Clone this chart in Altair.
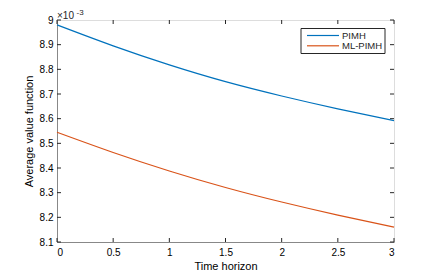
import altair as alt
import pandas as pd

time = [0, 0.5, 1, 1.5, 2, 2.5, 3]
pimh = [8.980, 8.895, 8.818, 8.750, 8.692, 8.640, 8.592]
mlpimh = [8.545, 8.463, 8.388, 8.321, 8.262, 8.209, 8.160]
series = ["PIMH", "ML-PIMH"]
colors = ["#0072BD", "#D95319"]
x_ticks = [0, 0.5, 1, 1.5, 2, 2.5, 3]
y_ticks = [8.1, 8.2, 8.3, 8.4, 8.5, 8.6, 8.7, 8.8, 8.9, 9.0]

W, H = 337, 222
FONT = "Liberation Sans"
AX = "#262626"

df = pd.DataFrame({
    "t": time * 2,
    "v": pimh + mlpimh,
    "s": [series[0]] * len(time) + [series[1]] * len(time),
})
xt = pd.DataFrame({"t": x_ticks})
yt = pd.DataFrame({"v": y_ticks})
one = pd.DataFrame({"a": [1]})

xscale = alt.Scale(domain=[0, 3], nice=False, zero=False)
yscale = alt.Scale(domain=[8.1, 9.0], nice=False, zero=False)

xaxis = alt.Axis(values=x_ticks, ticks=False, tickSize=0, grid=False,
                 labelExpr="format(datum.value, '~g')", labelOverlap=False,
                 labelPadding=5, title="Time horizon",
                 titleY=27, titleBaseline="alphabetic",
                 titleFontSize=11, titleFontWeight="normal")
yaxis = alt.Axis(values=y_ticks, ticks=False, tickSize=0, grid=False,
                 labelExpr="datum.value == 9 ? '9' : format(datum.value, '.1f')",
                 labelOverlap=False,
                 labelPadding=4, title="Average value function", titlePadding=5,
                 titleFontSize=11, titleFontWeight="normal")

lines = alt.Chart(df).mark_line(strokeWidth=1.2, interpolate="natural").encode(
    x=alt.X("t:Q", scale=xscale, axis=xaxis),
    y=alt.Y("v:Q", scale=yscale, axis=yaxis),
    color=alt.Color("s:N", scale=alt.Scale(domain=series, range=colors), legend=None),
)

tb = alt.Chart(xt).mark_rule(color=AX, strokeWidth=1).encode(
    x=alt.X("t:Q", scale=xscale, axis=xaxis), y=alt.value(H), y2=alt.value(H - 4))
tt = alt.Chart(xt).mark_rule(color=AX, strokeWidth=1).encode(
    x=alt.X("t:Q", scale=xscale, axis=xaxis), y=alt.value(0), y2=alt.value(4))
tl = alt.Chart(yt).mark_rule(color=AX, strokeWidth=1).encode(
    y=alt.Y("v:Q", scale=yscale, axis=yaxis), x=alt.value(0), x2=alt.value(4))
tr = alt.Chart(yt).mark_rule(color=AX, strokeWidth=1).encode(
    y=alt.Y("v:Q", scale=yscale, axis=yaxis), x=alt.value(W), x2=alt.value(W - 4))

exp_base = alt.Chart(one).mark_text(
    text="×10", font=FONT, fontSize=10, color=AX, align="left", baseline="alphabetic"
).encode(x=alt.value(0), y=alt.value(-1.5))
exp_sup = alt.Chart(one).mark_text(
    text="-3", font=FONT, fontSize=8, color=AX, align="left", baseline="alphabetic"
).encode(x=alt.value(19.5), y=alt.value(-5.5))

# legend box drawn manually (MATLAB style)
leg_box = alt.Chart(one).mark_rect(fill="white", stroke=AX, strokeWidth=1).encode(
    x=alt.value(244), x2=alt.value(328), y=alt.value(8.5), y2=alt.value(33.5))
leg_layers = []
for i, (name, col) in enumerate(zip(series, colors)):
    yy = 15.5 + 10.3 * i
    leg_layers.append(
        alt.Chart(one).mark_rule(color=col, strokeWidth=1.2).encode(
            x=alt.value(250), x2=alt.value(282), y=alt.value(yy))
    )
    leg_layers.append(
        alt.Chart(one).mark_text(text=name, font=FONT, fontSize=9.5, color=AX,
                                 align="left", baseline="middle").encode(
            x=alt.value(285), y=alt.value(yy + 0.5))
    )

chart = alt.layer(lines, tb, tt, tl, tr, exp_base, exp_sup, leg_box, *leg_layers).properties(
    width=W, height=H,
    autosize=alt.AutoSizeParams(type="none"),
    padding={"left": 49, "top": 12, "right": 34, "bottom": 29},
).configure_view(
    stroke=AX, strokeWidth=1
).configure_axis(
    domainColor=AX, domainWidth=1, labelFont=FONT, titleFont=FONT,
    labelFontSize=10, labelColor=AX, titleColor=AX,
).configure(background="white")

chart.save("out.html", embed_options={"renderer": "svg", "actions": False})
